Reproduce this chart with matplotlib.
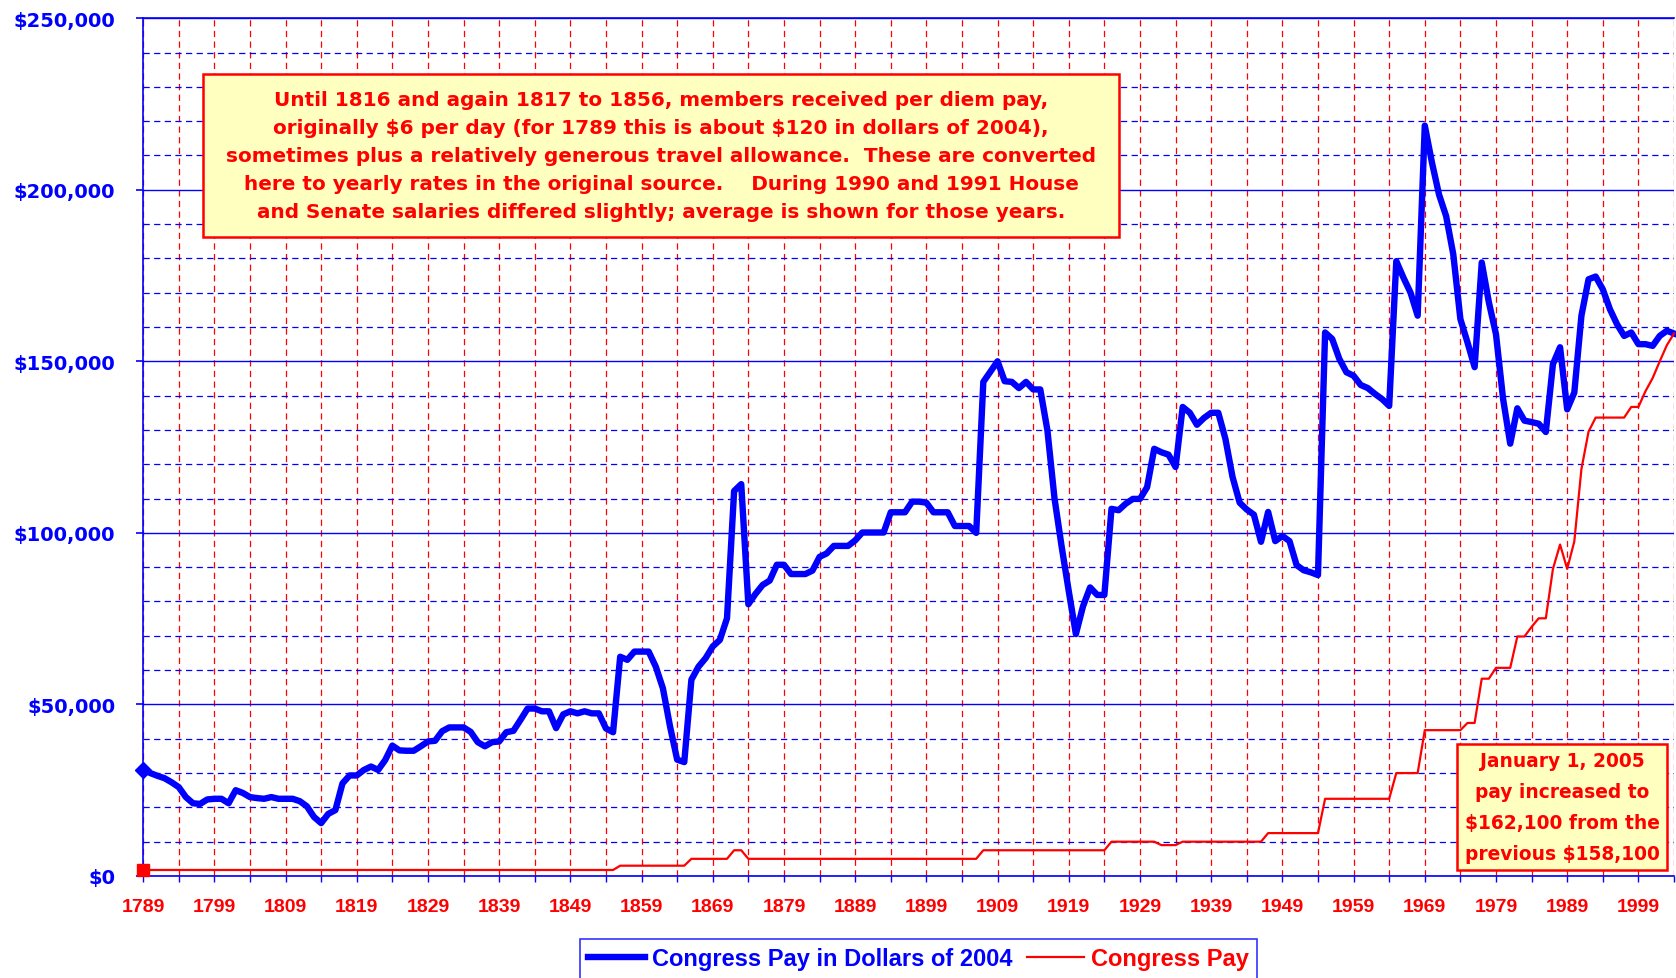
import numpy as np
import matplotlib
matplotlib.use("Agg")
import matplotlib.pyplot as plt
from matplotlib.ticker import FixedLocator, MultipleLocator, FuncFormatter
from matplotlib.patches import Rectangle

# Years on the category axis
years = np.arange(1789, 2005)

# Congress pay in dollars of 2004
pay_2004 = [
    31000, 30000, 29200, 28500, 27300, 25900, 23000, 21200, 21000, 22300,   # 1789
    22500, 22500, 21200, 25000, 24200, 23000, 22700, 22500, 23000, 22500,   # 1799
    22500, 22500, 21800, 20300, 17200, 15400, 18100, 19200, 27000, 29300,   # 1809
    29300, 30900, 31900, 30900, 33800, 38000, 36600, 36500, 36500, 37800,   # 1819
    39200, 39400, 42200, 43300, 43300, 43300, 42000, 39000, 37800, 39000,   # 1829
    39200, 41900, 42300, 45500, 48800, 48800, 48000, 48000, 43100, 47100,   # 1839
    48000, 47400, 48000, 47400, 47400, 43000, 41900, 63900, 63000, 65400,   # 1849
    65400, 65400, 61000, 54700, 43600, 33900, 33200, 57200, 61000, 63500,   # 1859
    66900, 68800, 75100, 112200, 114200, 79200, 82200, 84800, 86100, 90700,  # 1869
    90700, 88000, 88000, 88000, 89000, 93000, 94000, 96200, 96200, 96200,   # 1879
    97800, 100100, 100100, 100100, 100100, 106000, 106000, 106000, 109100, 109100,  # 1889
    108800, 106000, 106000, 106000, 102000, 102000, 102000, 100000, 144000, 147000,  # 1899
    150000, 144200, 144000, 142200, 144000, 141800, 141800, 129900, 110000, 96000,   # 1909
    83000, 70500, 78600, 84100, 81900, 81900, 107000, 106600, 108500, 109900,   # 1919
    109900, 113300, 124500, 123500, 122800, 119200, 136700, 135000, 131500, 133500,  # 1929
    135000, 135000, 127400, 116300, 108800, 106800, 105300, 97400, 106100, 97600,    # 1939
    99100, 97600, 90600, 89100, 88500, 87700, 158400, 156500, 150700, 146800,   # 1949
    145800, 143100, 142200, 140500, 139000, 137000, 179200, 174400, 170000, 163300,  # 1959
    218700, 208000, 198600, 192300, 181200, 162300, 155500, 148300, 178800, 167200,  # 1969
    157900, 139000, 126000, 136300, 132700, 132300, 131800, 129400, 149200, 154100,  # 1979
    136000, 140900, 163300, 173900, 174700, 171000, 165200, 160800, 157400, 158400,  # 1989
    155000, 155000, 154500, 157400, 158900, 158100,                                  # 1999
]

# Congress pay in current dollars
pay_nominal = [
    1750, 1750, 1750, 1750, 1750, 1750, 1750, 1750, 1750, 1750,   # 1789
    1750, 1750, 1750, 1750, 1750, 1750, 1750, 1750, 1750, 1750,   # 1799
    1750, 1750, 1750, 1750, 1750, 1750, 1750, 1750, 1750, 1750,   # 1809
    1750, 1750, 1750, 1750, 1750, 1750, 1750, 1750, 1750, 1750,   # 1819
    1750, 1750, 1750, 1750, 1750, 1750, 1750, 1750, 1750, 1750,   # 1829
    1750, 1750, 1750, 1750, 1750, 1750, 1750, 1750, 1750, 1750,   # 1839
    1750, 1750, 1750, 1750, 1750, 1750, 1750, 3000, 3000, 3000,   # 1849
    3000, 3000, 3000, 3000, 3000, 3000, 3000, 5000, 5000, 5000,   # 1859
    5000, 5000, 5000, 7500, 7500, 5000, 5000, 5000, 5000, 5000,   # 1869
    5000, 5000, 5000, 5000, 5000, 5000, 5000, 5000, 5000, 5000,   # 1879
    5000, 5000, 5000, 5000, 5000, 5000, 5000, 5000, 5000, 5000,   # 1889
    5000, 5000, 5000, 5000, 5000, 5000, 5000, 5000, 7500, 7500,   # 1899
    7500, 7500, 7500, 7500, 7500, 7500, 7500, 7500, 7500, 7500,   # 1909
    7500, 7500, 7500, 7500, 7500, 7500, 10000, 10000, 10000, 10000,   # 1919
    10000, 10000, 10000, 9000, 9000, 9000, 10000, 10000, 10000, 10000,  # 1929
    10000, 10000, 10000, 10000, 10000, 10000, 10000, 10000, 12500, 12500,  # 1939
    12500, 12500, 12500, 12500, 12500, 12500, 22500, 22500, 22500, 22500,  # 1949
    22500, 22500, 22500, 22500, 22500, 22500, 30000, 30000, 30000, 30000,  # 1959
    42500, 42500, 42500, 42500, 42500, 42500, 44600, 44600, 57500, 57500,  # 1969
    60663, 60663, 60663, 69800, 69800, 72600, 75100, 75100, 89500, 96600,  # 1979
    89500, 97500, 118600, 129500, 133600, 133600, 133600, 133600, 133600, 136700,  # 1989
    136700, 141300, 145100, 150000, 154700, 158100,                              # 1999
]

series_names = ["Congress Pay in Dollars of 2004", "Congress Pay"]
label_years = years[::10]
grid_years = years[5::10]

note_main = ("Until 1816 and again 1817 to 1856, members received per diem pay,\n"
             "originally $6 per day (for 1789 this is about $120 in dollars of 2004),\n"
             "sometimes plus a relatively generous travel allowance.  These are converted\n"
             "here to yearly rates in the original source.    During 1990 and 1991 House\n"
             "and Senate salaries differed slightly; average is shown for those years.")
note_2005 = ("January 1, 2005\npay increased to\n"
             "$162,100 from the\nprevious $158,100")

BLUE = "#0000ff"
RED = "#ff0000"
BOX = "#ffffc0"

fig = plt.figure(figsize=(16.76, 9.79), dpi=100)
ax = fig.add_axes([0.0854, 0.1042, 0.9134, 0.8762])

line_real, = ax.plot(years, pay_2004, color=BLUE, lw=4.6, solid_joinstyle="round",
                     marker="D", markevery=[0], markersize=8, zorder=3, clip_on=False)
line_nom, = ax.plot(years, pay_nominal, color=RED, lw=1.6, marker="s",
                    markevery=[0], markersize=9, zorder=4, clip_on=False)

ax.set_xlim(1789, 2004)
ax.set_ylim(0, 250000)

# y axis: majors every 50k, dashed minors every 10k
ax.yaxis.set_major_locator(MultipleLocator(50000))
ax.yaxis.set_minor_locator(MultipleLocator(10000))
ax.yaxis.set_major_formatter(FuncFormatter(lambda v, p: f"${v:,.0f}"))
ax.grid(axis="y", which="major", color=BLUE, lw=1.0, ls="-")
ax.grid(axis="y", which="minor", color=BLUE, lw=0.9, ls=(0, (5, 3.5)))

# x axis: labels every 10 years, red dashed gridlines every 5
ax.xaxis.set_major_locator(FixedLocator(label_years))
ax.xaxis.set_minor_locator(FixedLocator(grid_years))
ax.grid(axis="x", which="both", color=RED, lw=0.9, ls=(0, (5, 3.5)))
ax.set_axisbelow(True)

ax.tick_params(axis="y", which="major", colors=BLUE, labelcolor=BLUE, length=5,
               width=1.2, pad=15, labelsize=14)
ax.tick_params(axis="y", which="minor", length=0)
ax.tick_params(axis="x", which="both", colors=BLUE, labelcolor=RED, length=4.5,
               width=1.0, pad=11, labelsize=14)
for lbl in ax.get_yticklabels():
    lbl.set_fontweight("bold")
    lbl.set_fontfamily("DejaVu Sans")
for lbl in ax.get_xticklabels():
    lbl.set_fontweight("bold")
    lbl.set_fontfamily("Liberation Sans")

for side in ["left", "bottom", "top"]:
    ax.spines[side].set_color(BLUE)
    ax.spines[side].set_linewidth(1.2)
ax.spines["right"].set_visible(False)

# Note boxes
fig.patches.append(Rectangle((0.1211, 0.7569), 0.5466, 0.1665, transform=fig.transFigure,
                             facecolor=BOX, edgecolor=RED, lw=1.8, zorder=5))
fig.text(0.3944, 0.8401, note_main, ha="center", va="center", color=RED,
         fontsize=14.4, fontweight="bold", family="DejaVu Sans", linespacing=1.59,
         parse_math=False, zorder=6)

fig.patches.append(Rectangle((0.8693, 0.1103), 0.1253, 0.1287, transform=fig.transFigure,
                             facecolor=BOX, edgecolor=RED, lw=1.8, zorder=5))
fig.text(0.9320, 0.1747, note_2005, ha="center", va="center", color=RED,
         fontsize=13.4, fontweight="bold", family="DejaVu Sans", linespacing=1.82,
         parse_math=False, zorder=6)

leg = fig.legend([line_real, line_nom], series_names, loc="upper center",
                 bbox_to_anchor=(0.548, 1 - 940 / 979), ncol=2, frameon=True,
                 fancybox=False, edgecolor=BLUE, handlelength=2.4, handletextpad=0.3,
                 columnspacing=0.6, borderpad=0.35, borderaxespad=0,
                 labelcolor="linecolor",
                 prop={"family": "Liberation Sans", "weight": "bold", "size": 17})
leg.get_frame().set_linewidth(1.2)
for h in leg.legend_handles:
    h.set_marker("")

fig.savefig("out.png", dpi=100)
